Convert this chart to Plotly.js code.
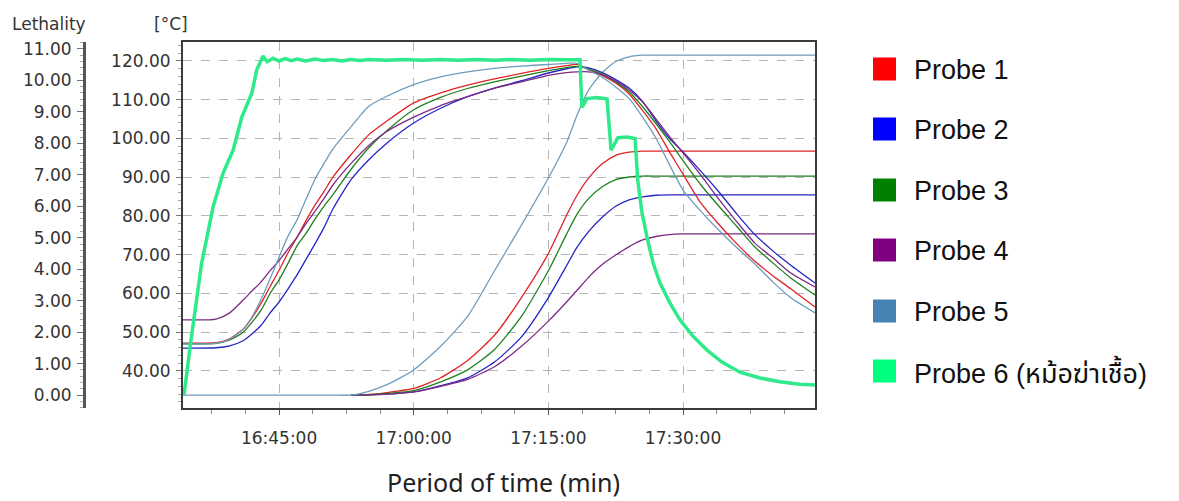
<!DOCTYPE html>
<html>
<head>
<meta charset="utf-8">
<script src="https://cdn.plot.ly/plotly-3.0.1.min.js"></script>
<style>
  html, body { margin: 0; padding: 0; background: #ffffff; }
  #chart { width: 1179px; height: 501px; }
</style>
</head>
<body>
<div id="chart"></div>
<script>
// ---------------- DATA ----------------
const DAY = '2024-01-01 ';

const PROBE_NAMES = ['Probe 1', 'Probe 2', 'Probe 3', 'Probe 4', 'Probe 5', 'Probe 6 (หม้อฆ่าเชื้อ)'];

// common time grid for probes 1-5
const TIME_GRID = ['16:34:18','16:38:00','16:39:30','16:41:00','16:42:00','16:43:00','16:44:00','16:45:00','16:46:00','16:47:00',
                   '16:48:00','16:49:00','16:50:00','16:51:00','16:53:00','16:55:00','16:57:00','17:00:00','17:03:00','17:06:00',
                   '17:09:00','17:12:00','17:15:00','17:17:00','17:18:12','17:19:30','17:21:00','17:22:30','17:24:00','17:25:30',
                   '17:27:00','17:28:30','17:30:00','17:32:00','17:34:00','17:36:00','17:38:00','17:40:00','17:42:00','17:44:42'];

// temperature (°C)
const P1_TEMP = [47.2,47.3,48.3,50.8,53.8,57.5,61.8,66.0,70.5,74.5,
                 78.8,82.8,86.3,90.0,95.8,101.0,104.5,109.2,111.8,113.8,
                 115.4,116.8,118.1,118.8,119.1,117.8,116.3,114.3,111.5,107.2,
                 102.5,96.5,90.8,83.3,77.8,72.8,68.3,64.6,61.2,56.5];
const P2_TEMP = [45.9,46.0,46.5,47.8,49.6,51.8,55.0,57.8,61.2,64.8,
                 68.8,72.8,77.0,81.8,89.3,94.5,98.8,104.0,107.8,110.8,
                 113.0,114.9,116.9,118.0,118.5,118.2,117.0,115.2,113.0,109.5,
                 104.5,100.0,96.5,91.5,86.2,80.5,75.2,71.0,67.3,62.7];
const P3_TEMP = [47.0,47.1,48.0,50.0,52.6,55.7,60.0,63.5,67.8,72.3,
                 75.5,79.2,82.5,85.5,92.0,97.6,102.0,107.4,110.6,112.9,
                 114.6,116.1,117.5,118.3,118.6,117.9,116.6,114.6,112.0,108.2,
                 103.8,99.2,94.3,88.0,82.5,77.3,72.0,67.9,64.0,59.6];
const P4_TEMP = [53.2,53.4,55.0,58.3,60.7,63.0,65.9,68.5,71.5,74.5,
                 78.0,81.2,84.5,88.0,93.5,98.2,101.8,105.5,108.5,110.8,
                 113.0,114.6,116.3,117.0,117.2,117.2,116.5,114.8,112.5,109.4,
                 105.0,100.5,96.3,90.5,84.3,78.5,73.0,69.2,65.3,61.7];
const P5_TEMP = [47.0,47.1,48.2,50.8,54.0,58.5,63.8,69.4,74.8,79.0,
                 84.3,89.5,93.5,97.3,103.0,108.3,110.9,113.9,115.9,117.2,
                 118.1,118.7,119.1,119.4,119.4,117.6,115.8,113.3,110.3,105.5,
                 100.0,93.2,86.7,81.2,76.3,71.8,67.6,63.0,58.9,55.0];

// lethality (probes 1-4 logged from 16:53:00 onward, probe 5 from start)
const LETH_TIME = TIME_GRID.slice(14);
const P1_LETH = [0,0.02,0.08,0.21,0.55,1.1,1.9,3.1,4.5,5.7,6.35,6.9,7.35,7.62,7.72,7.75,7.75,7.75,7.75,7.75,7.75,7.75,7.75,7.75,7.75,7.75];
const P2_LETH = [0,0.01,0.03,0.1,0.3,0.55,1.05,1.85,3.1,4.1,4.7,5.2,5.65,6.0,6.2,6.3,6.35,6.36,6.36,6.36,6.36,6.36,6.36,6.36,6.36,6.36];
const P3_LETH = [0,0.01,0.05,0.14,0.42,0.8,1.45,2.5,3.95,5.1,5.75,6.25,6.62,6.85,6.93,6.96,6.96,6.96,6.96,6.96,6.96,6.96,6.96,6.96,6.96,6.96];
const P4_LETH = [0,0.01,0.03,0.1,0.28,0.5,0.9,1.55,2.35,2.95,3.33,3.75,4.15,4.45,4.72,4.93,5.04,5.1,5.12,5.12,5.12,5.12,5.12,5.12,5.12,5.12];
const P5_LETH = [0,0,0,0,0,0,0,0,0,0,0,0,0,0,
                 0,0.12,0.33,0.8,1.55,2.5,3.95,5.4,6.9,8.0,8.9,9.7,10.25,10.6,10.75,10.8,
                 10.8,10.8,10.8,10.8,10.8,10.8,10.8,10.8,10.8,10.8];

// probe 6 (retort) temperature
const P6_TIME = ['16:34:25','16:35:05','16:36:23','16:37:39','16:38:46','16:39:53','16:40:51','16:41:58','16:42:31','16:43:13',
                 '16:43:40','16:44:20','16:45:00','16:45:40','16:46:20','16:47:00','16:48:00','16:49:00','16:50:00','16:51:00',
                 '16:52:00','16:53:00','16:54:00','16:55:00','16:57:00','16:59:00','17:01:00','17:03:00','17:05:00','17:07:00',
                 '17:09:00','17:11:00','17:13:00','17:15:00','17:17:00','17:18:31','17:18:44','17:19:18','17:20:25','17:21:32',
                 '17:21:59','17:22:45','17:23:45','17:24:39','17:24:58','17:25:25','17:25:59','17:26:39','17:27:26','17:28:33',
                 '17:29:39','17:31:06','17:32:40','17:34:20','17:36:20','17:38:34','17:40:47','17:43:00','17:44:41'];
const P6_TEMP = [33.8,46.2,67.9,82.3,91.1,97.0,105.5,111.7,117.7,121.3,
                 119.8,120.7,120.0,120.6,120.1,120.5,120.0,120.5,120.1,120.4,
                 120.0,120.4,120.1,120.4,120.2,120.4,120.2,120.4,120.2,120.4,
                 120.2,120.4,120.2,120.4,120.3,120.3,108.0,110.3,110.6,110.2,
                 97.0,100.2,100.4,100.0,89.0,81.0,74.6,68.0,62.7,57.5,
                 53.2,49.0,45.4,42.3,39.7,38.2,37.2,36.6,36.4];

const X_TICKS = ['16:45:00','17:00:00','17:15:00','17:30:00'];
const TEMP_TICKS = [40,50,60,70,80,90,100,110,120];
const LETH_TICKS = [0,1,2,3,4,5,6,7,8,9,10,11];

// ---------------- STYLE ----------------
const LINE_COLORS = ['#e02424','#2626c4','#208020','#7c2a84','#6f9cbc','#2eea8a'];
const LEGEND_COLORS = ['#FF0000','#0000FF','#008000','#800080','#4682B4','#00FF7F'];
const W = 1179, H = 501, PL = 183, PR = 815, PT = 42, PB = 408;

const toDate = arr => arr.map(t => DAY + t);
const px = x => x / W;
const py = y => (PB - y) / (PB - PT);

const lethSeries = [P1_LETH, P2_LETH, P3_LETH, P4_LETH];
const tempSeries = [P1_TEMP, P2_TEMP, P3_TEMP, P4_TEMP, P5_TEMP];

const traces = [];
lethSeries.forEach((s, i) => traces.push({
  x: toDate(LETH_TIME), y: s, type: 'scatter', mode: 'lines', yaxis: 'y',
  line: {color: LINE_COLORS[i], width: 1.3, shape: 'spline', smoothing: 0.6}, hoverinfo: 'skip', name: PROBE_NAMES[i]
}));
traces.push({
  x: toDate(TIME_GRID), y: P5_LETH, type: 'scatter', mode: 'lines', yaxis: 'y',
  line: {color: LINE_COLORS[4], width: 1.3, shape: 'spline', smoothing: 0.6}, hoverinfo: 'skip', name: PROBE_NAMES[4]
});
tempSeries.forEach((s, i) => traces.push({
  x: toDate(TIME_GRID), y: s, type: 'scatter', mode: 'lines', yaxis: 'y2',
  line: {color: LINE_COLORS[i], width: 1.3, shape: 'spline', smoothing: 0.6}, hoverinfo: 'skip', name: PROBE_NAMES[i]
}));
traces.push({
  x: toDate(P6_TIME), y: P6_TEMP, type: 'scatter', mode: 'lines', yaxis: 'y2',
  line: {color: LINE_COLORS[5], width: 3.5}, hoverinfo: 'skip', name: PROBE_NAMES[5]
});

const tickFont = {family: 'DejaVu Sans, Verdana, sans-serif', size: 17, color: '#333333'};

const shapes = [];
const annotations = [
  {text: 'Lethality', xref: 'paper', yref: 'paper', x: px(49), y: py(24), xanchor: 'center', yanchor: 'middle',
   showarrow: false, font: {family: tickFont.family, size: 17, color: '#333333'}},
  {text: '[°C]', xref: 'paper', yref: 'paper', x: px(171), y: py(24), xanchor: 'center', yanchor: 'middle',
   showarrow: false, font: {family: tickFont.family, size: 17, color: '#333333'}},
  {text: 'Period of time (min)', xref: 'paper', yref: 'paper', x: px(503), y: py(482), xanchor: 'center', yanchor: 'middle',
   showarrow: false, font: {family: 'Noto Sans, sans-serif', size: 25, color: '#222222'}}
];
const LEGEND_Y = [69, 129, 190, 250, 311, 371];
PROBE_NAMES.forEach((name, i) => {
  const cy = LEGEND_Y[i];
  shapes.push({type: 'rect', xref: 'paper', yref: 'paper', x0: px(873), x1: px(896), y0: py(cy + 11.5), y1: py(cy - 11.5),
               fillcolor: LEGEND_COLORS[i], line: {width: 0}});
  annotations.push({text: name, xref: 'paper', yref: 'paper', x: px(912), y: py(cy + 1), xanchor: 'left', yanchor: 'middle',
                    showarrow: false, font: {family: 'Liberation Sans, Arial, Noto Sans Thai, Loma, Garuda, Noto Sans, sans-serif', size: 27, color: '#111111'}});
});

const layout = {
  width: W, height: H,
  margin: {l: 0, r: 0, t: PT, b: H - PB, pad: 0},
  paper_bgcolor: '#ffffff', plot_bgcolor: '#ffffff',
  showlegend: false,
  xaxis: {
    domain: [px(PL), px(PR)], type: 'date',
    range: [DAY + '16:34:18', DAY + '17:44:42'],
    tickmode: 'array', tickvals: toDate(X_TICKS), ticktext: X_TICKS,
    ticks: 'outside', ticklen: 5, tickcolor: '#555555', tickwidth: 1,
    ticklabelstandoff: 9,
    showgrid: true, gridcolor: '#b5b5b5', griddash: 'dash', gridwidth: 1,
    showline: true, mirror: true, linecolor: '#3c3c3c', linewidth: 2,
    zeroline: false, tickfont: tickFont, fixedrange: true,
    minor: {tickmode: 'linear', tick0: DAY + '16:45:00', dtick: 225000, ticks: 'outside', ticklen: 4, tickcolor: '#888888', showgrid: false}
  },
  yaxis: {
    range: [-0.41, 11.22], anchor: 'free', position: px(84), side: 'left',
    tickmode: 'array', tickvals: LETH_TICKS, ticktext: LETH_TICKS.map(v => v.toFixed(2)),
    ticks: 'outside', ticklen: 6, tickcolor: '#777777', tickwidth: 1,
    ticklabelstandoff: 2,
    showline: true, linecolor: '#555555', linewidth: 2.5,
    showgrid: false, zeroline: false, tickfont: tickFont, fixedrange: true,
    minor: {tickmode: 'linear', tick0: 0, dtick: 0.2, ticks: 'outside', ticklen: 3, tickcolor: '#aaaaaa', showgrid: false}
  },
  yaxis2: {
    overlaying: 'y', anchor: 'x', side: 'left',
    range: [30.45, 124.9],
    tickmode: 'array', tickvals: TEMP_TICKS, ticktext: TEMP_TICKS.map(v => v.toFixed(2)),
    ticks: 'outside', ticklen: 5, tickcolor: '#777777', tickwidth: 1,
    ticklabelstandoff: 2,
    showgrid: true, gridcolor: '#b5b5b5', griddash: 'dash', gridwidth: 1,
    showline: true, mirror: true, linecolor: '#3c3c3c', linewidth: 2,
    zeroline: false, tickfont: tickFont, fixedrange: true,
    minor: {tickmode: 'linear', tick0: 0, dtick: 2, ticks: 'outside', ticklen: 3, tickcolor: '#aaaaaa', showgrid: false}
  },
  shapes: shapes,
  annotations: annotations
};

Plotly.newPlot('chart', traces, layout, {staticPlot: true, displayModeBar: false});
</script>
</body>
</html>
